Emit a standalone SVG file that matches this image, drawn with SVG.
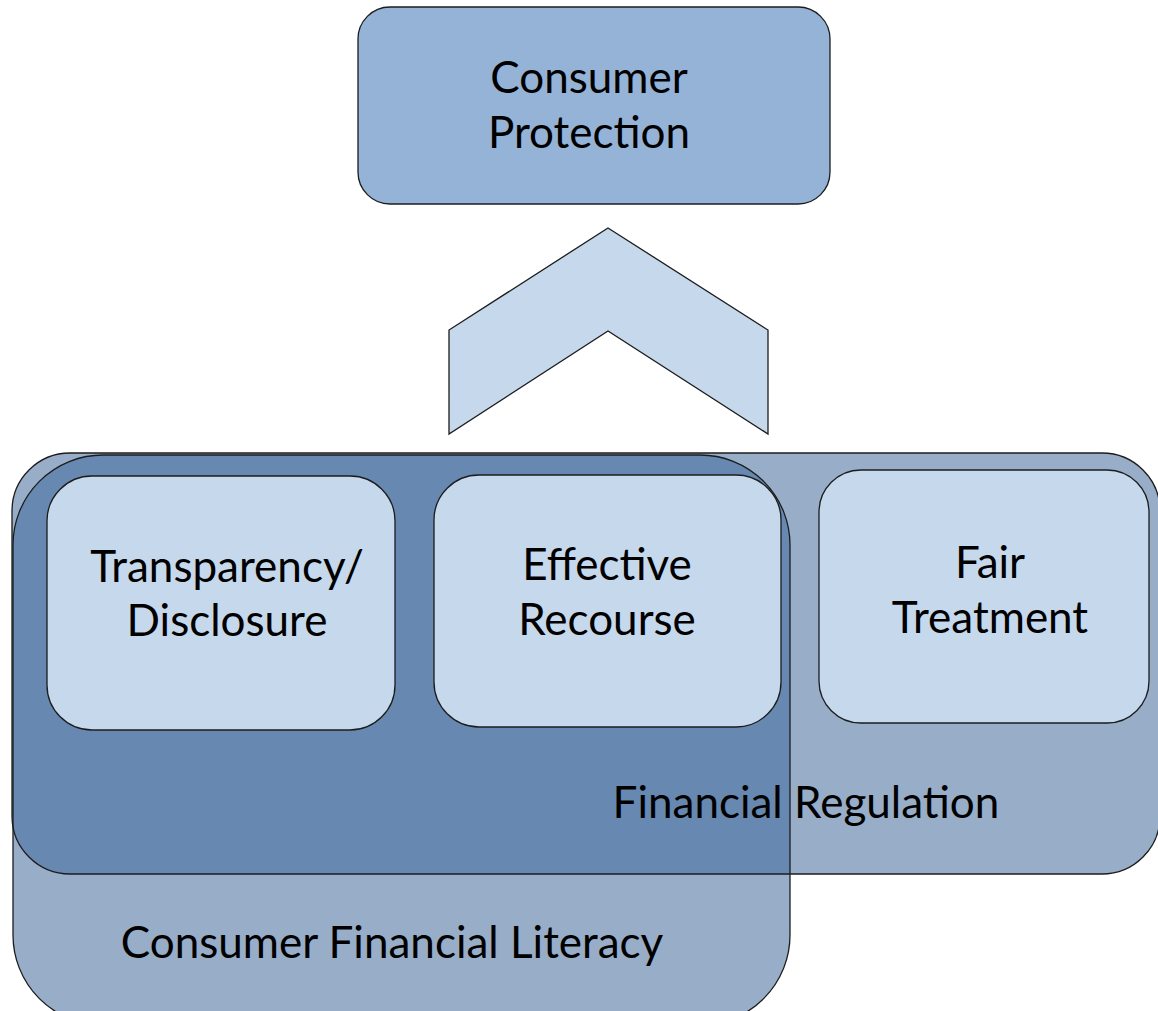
<svg xmlns="http://www.w3.org/2000/svg" width="1158" height="1011" viewBox="0 0 1158 1011">
<style>
.ol{fill:none;stroke:#1c1c1c;stroke-width:1.3}
.lt{fill:#c6d8ec;stroke:#1c1c1c;stroke-width:1.3}
.t{font-family:Lato,"Open Sans",sans-serif;font-size:44px;fill:#000;text-anchor:middle}
</style>
<defs>
<clipPath id="frclip"><rect x="12" y="453" width="1148" height="421" rx="58" ry="58"/></clipPath>
</defs>
<rect width="1158" height="1011" fill="#fff"/>
<g id="financial-regulation-fill">
<rect x="12" y="453" width="1148" height="421" rx="58" ry="58" fill="#97adc8"/>
</g>
<g id="consumer-financial-literacy-fill">
<rect x="13" y="455" width="777" height="570" rx="90" ry="90" fill="#97adc8"/>
<rect x="13" y="455" width="777" height="570" rx="90" ry="90" fill="#6788b0" clip-path="url(#frclip)"/>
</g>
<g id="financial-regulation">
<rect class="ol" x="12" y="453" width="1148" height="421" rx="58" ry="58"/>
<text class="t" x="806" y="818">Financial Regulation</text>
</g>
<g id="consumer-financial-literacy">
<rect class="ol" x="13" y="455" width="777" height="570" rx="90" ry="90"/>
<text class="t" x="392" y="958">Consumer Financial Literacy</text>
</g>
<g id="consumer-protection">
<rect x="358" y="7" width="472" height="197" rx="32" ry="32" fill="#95b3d7" stroke="#1c1c1c" stroke-width="1.3"/>
<text class="t" x="589" y="93">Consumer</text>
<text class="t" x="589" y="148">Protection</text>
</g>
<g id="connectors">
<polygon class="lt" points="608,228 768,330 768,434 608,331 449,434 449,330"/>
</g>
<g id="transparency">
<rect class="lt" x="47" y="476" width="348" height="254" rx="45" ry="45"/>
<text class="t" x="227" y="582">Transparency/</text>
<text class="t" x="227" y="636">Disclosure</text>
</g>
<g id="effective-recourse">
<rect class="lt" x="434" y="475" width="347" height="252" rx="45" ry="45"/>
<text class="t" x="607" y="580">Effective</text>
<text class="t" x="607" y="635">Recourse</text>
</g>
<g id="fair-treatment">
<rect class="lt" x="819" y="470" width="330" height="253" rx="42" ry="42"/>
<text class="t" x="990" y="578">Fair</text>
<text class="t" x="990" y="633">Treatment</text>
</g>
</svg>
